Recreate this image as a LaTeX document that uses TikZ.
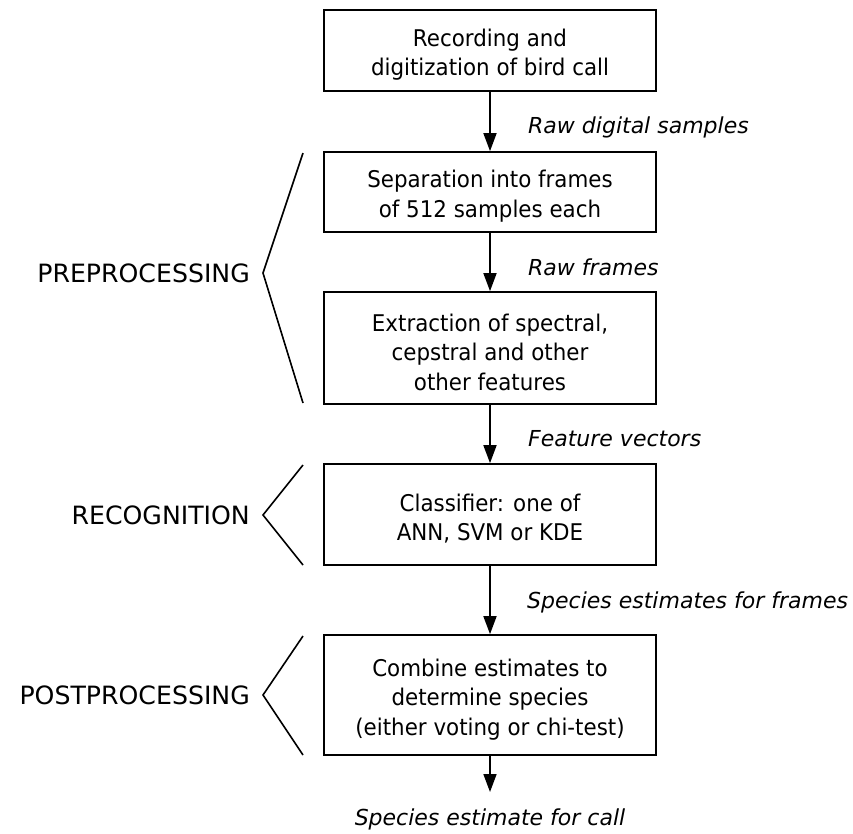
\documentclass[tikz,border=0pt]{standalone}
\usepackage{fontspec}
\setmainfont{DejaVu Sans}
\newfontfamily\stagefont[FakeStretch=0.93]{DejaVu Sans}
\usetikzlibrary{arrows.meta}
% invisible strut that lowers the text block inside a stage box
\newcommand\stagestrut{\rule{0pt}{26pt}}
\tikzset{
  stage/.style={draw, line width=1.7pt, minimum width=332pt, inner sep=0pt,
    align=center, font=\stagefont\fontsize{23}{29.5}\selectfont},
  flow/.style={line width=1.7pt, -{Triangle[length=18pt,width=13pt]}},
  flowlabel/.style={anchor=west, inner sep=0pt, font=\fontsize{22}{26}\selectfont\itshape},
  phase/.style={anchor=east, inner sep=0pt, font=\fontsize{25.2}{28}\selectfont},
  brace/.style={line width=1.6pt, line join=miter}
}
\begin{document}
\begin{tikzpicture}[x=1pt, y=-1pt]
  \useasboundingbox (0,0) rectangle (853,833);

  % processing stages
  \node[stage, minimum height=81pt]  (rec)  at (490,50.5) {\stagestrut Recording and\\digitization of bird call};
  \node[stage, minimum height=80pt]  (sep)  at (490,192)  {\stagestrut Separation into frames\\of 512 samples each};
  \node[stage, minimum height=112pt] (feat) at (490,348)  {\stagestrut Extraction of spectral,\\cepstral and other\\other features};
  \node[stage, minimum height=101pt] (cls)  at (490,514.5){\stagestrut Classifier: one of\\ANN, SVM or KDE};
  \node[stage, minimum height=120pt] (comb) at (490,695)  {\stagestrut Combine estimates to\\determine species\\(either voting or chi-test)};
  \coordinate (end) at (490,792);

  % connectors
  \draw[flow] (rec)  -- (sep);
  \draw[flow] (sep)  -- (feat);
  \draw[flow] (feat) -- (cls);
  \draw[flow] (cls)  -- (comb);
  \draw[flow] (comb) -- (end);

  % connector labels
  \node[flowlabel] (l1) at (528,127) {Raw digital samples};
  \node[flowlabel] (l2) at (528,267) {Raw frames};
  \node[flowlabel] (l3) at (528,439) {Feature vectors};
  \node[flowlabel] (l4) at (527,602) {Species estimates for frames};
  \node[anchor=center, inner sep=0pt, font=\fontsize{22}{26}\selectfont\itshape] (l5) at (490,819) {Species estimate for call};

  % phase brackets
  \draw[brace] (303,153) -- (263,273) -- (303,403);
  \draw[brace] (303,465) -- (263,515) -- (303,565);
  \draw[brace] (303,636) -- (263,695) -- (303,755);

  % phase names
  \node[phase] (pre)  at (250,273) {PREPROCESSING};
  \node[phase] (reco) at (250,515) {RECOGNITION};
  \node[phase] (post) at (250,695) {POSTPROCESSING};
\end{tikzpicture}
\end{document}
